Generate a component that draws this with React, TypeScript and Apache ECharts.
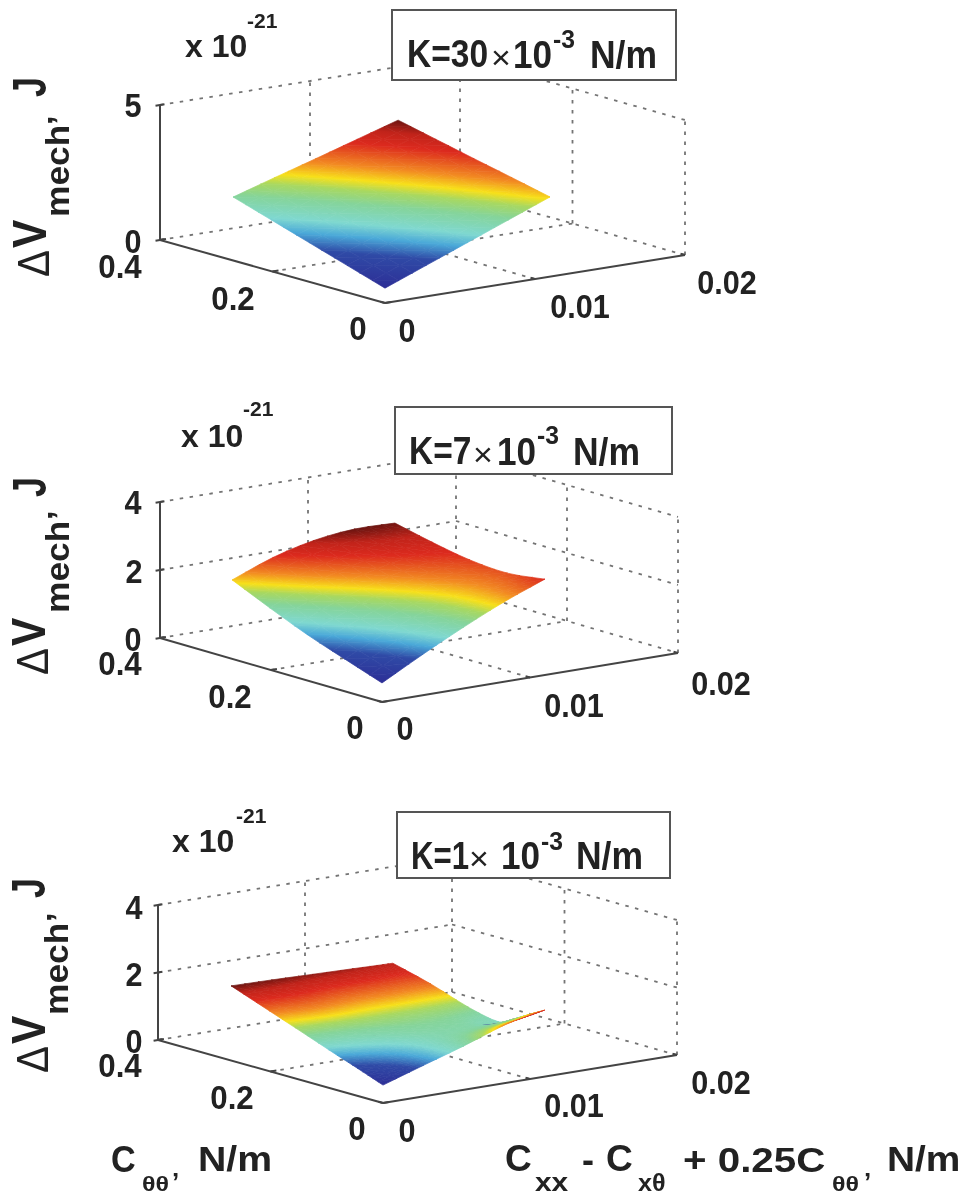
import React, { useEffect, useRef } from "react";
import * as echarts from "echarts";

// ---- data ----
const X_TICKS = [0, 0.01, 0.02];
const C_TICKS = [0, 0.2, 0.4];
const Z_TICKS_1 = [0, 5];
const Z_TICKS_2 = [0, 2, 4];
const Z_TICKS_3 = [0, 2, 4];

const X_VALUES_A = [0, 0.00275, 0.0055, 0.00825, 0.011];
const C_VALUES_A = [0, 0.0675, 0.135, 0.2025, 0.27];
const X_VALUES_B = [0, 0.00275, 0.0055, 0.00825, 0.0099, 0.011];
const C_VALUES_B = [0, 0.027, 0.054, 0.081, 0.135, 0.2025, 0.27];

const Z_K30 = [
  [0.55, 1.0, 1.45, 1.9, 2.35],
  [1.15, 1.57, 2.0, 2.41, 2.82],
  [1.75, 2.14, 2.53, 2.91, 3.28],
  [2.35, 2.7, 3.05, 3.4, 3.75],
  [2.95, 3.27, 3.58, 3.9, 4.22],
];
const Z_K7 = [
  [0.56, 0.95, 1.35, 1.82, 2.32],
  [1.2, 1.5, 1.86, 2.3, 2.78],
  [1.8, 1.98, 2.27, 2.65, 3.08],
  [2.35, 2.38, 2.57, 2.87, 3.22],
  [2.82, 2.68, 2.75, 2.95, 3.2],
];
const Z_K1 = [
  [0.53, 0.7, 0.87, 1.03, 1.37, 1.79, 2.21],
  [0.92, 0.98, 1.06, 1.17, 1.42, 1.82, 2.19],
  [1.3, 1.27, 1.27, 1.31, 1.45, 1.78, 2.16],
  [1.72, 1.5, 1.35, 1.33, 1.45, 1.78, 2.13],
  [1.88, 1.62, 1.4, 1.27, 1.44, 1.78, 2.11],
  [1.97, 1.72, 1.46, 1.24, 1.42, 1.8, 2.1],
];

// ---- styles and layout ----
const JET = [
  [0, "#2d2e96"], [0.2, "#2f4aa6"], [0.3, "#4aa8d8"], [0.38, "#7fd8d0"],
  [0.5, "#85d49a"], [0.58, "#a8d860"], [0.64, "#f7e01a"], [0.72, "#f28a22"],
  [0.85, "#dc2a1e"], [0.93, "#c0231a"], [1, "#6b1410"],
].map(([offset, color]) => ({ offset, color }));

const FONT = "Liberation Sans";
const INK = "#222";
const X_MAX = 0.02;
const C_MAX = 0.4;
const MESH_STEPS = 3;

const PANELS = [
  {
    z: Z_K30, xs: X_VALUES_A, cs: C_VALUES_A, zTicks: Z_TICKS_1,
    o: [385, 303], l: [-225, -63], r: [300, -48], h: 135,
    zLabels: [[133, 241], [133, 105]],
    cLabels: [[358, 328], [233, 298], [120, 266]],
    xLabels: [[407, 330], [580, 306], [727, 282]],
    times10: [185, 46], exp21: [247, 20],
    box: [392, 10, 284, 70],
    k: { y: 54, supY: 39, k: ["K=30", 407], kx: 0.86, times: 491, ten: 513, sup: 553, unit: 590 },
    yl: { d: [34, 277], v: [30, 248], mech: [57, 217], comma: [59, 125], j: [30, 97] },
  },
  {
    z: Z_K7, xs: X_VALUES_A, cs: C_VALUES_A, zTicks: Z_TICKS_2,
    o: [382, 702], l: [-222, -64], r: [296, -49], h: 136,
    zLabels: [[133, 639], [134, 571], [133, 502]],
    cLabels: [[355, 727], [230, 696], [120, 663]],
    xLabels: [[405, 728], [574, 705], [721, 683]],
    times10: [181, 436], exp21: [243, 408],
    box: [395, 407, 277, 67],
    k: { y: 451, supY: 435, k: ["K=7", 409], kx: 0.86, times: 473, ten: 497, sup: 537, unit: 573 },
    yl: { d: [33, 675], v: [29, 646], mech: [57, 613], comma: [59, 520], j: [30, 497] },
  },
  {
    z: Z_K1, xs: X_VALUES_B, cs: C_VALUES_B, zTicks: Z_TICKS_3,
    o: [383, 1103], l: [-225, -63], r: [294, -48], h: 135,
    zLabels: [[134, 1041], [134, 974], [134, 907]],
    cLabels: [[357, 1128], [232, 1097], [120, 1065]],
    xLabels: [[407, 1130], [574, 1105], [721, 1082]],
    times10: [172, 841], exp21: [236, 815],
    box: [397, 812, 273, 66],
    k: { y: 855, supY: 841, k: ["K=1", 411], kx: 0.8, times: 469, ten: 501, sup: 541, unit: 576 },
    yl: { d: [33, 1073], v: [29, 1044], mech: [56, 1015], comma: [58, 922], j: [29, 898] },
  },
];

function project(p: any, x: number, c: number, z: number) {
  const zMax = p.zTicks[p.zTicks.length - 1];
  const a = c / C_MAX;
  const b = x / X_MAX;
  return [
    p.o[0] + a * p.l[0] + b * p.r[0],
    p.o[1] + a * p.l[1] + b * p.r[1] - (z / zMax) * p.h,
  ];
}

// Smooth resampling of a mesh line between its read values, for drawing only.
function spline(arr: number[], s: number) {
  const n = arr.length;
  const i = Math.min(Math.floor(s), n - 2);
  const t = s - i;
  const p1 = arr[i];
  const p2 = arr[i + 1];
  const p0 = i > 0 ? arr[i - 1] : 2 * p1 - p2;
  const p3 = i + 2 < n ? arr[i + 2] : 2 * p2 - p1;
  return (
    0.5 *
    (2 * p1 + (p2 - p0) * t + (2 * p0 - 5 * p1 + 4 * p2 - p3) * t * t + (3 * p1 - p0 - 3 * p2 + p3) * t * t * t)
  );
}
function meshZ(z: number[][], s: number, t: number) {
  return spline(z.map((row) => spline(row, t)), s);
}

function triangleFill(pts: number[][], zs: number[], lo: number, hi: number) {
  const [[x0, y0], [x1, y1], [x2, y2]] = pts;
  const det = (x1 - x0) * (y2 - y0) - (x2 - x0) * (y1 - y0);
  const dz1 = zs[1] - zs[0];
  const dz2 = zs[2] - zs[0];
  const fx = Math.abs(det) > 1e-6 ? (dz1 * (y2 - y0) - dz2 * (y1 - y0)) / det : 0;
  const fy = Math.abs(det) > 1e-6 ? (dz2 * (x1 - x0) - dz1 * (x2 - x0)) / det : 0;
  const g2 = fx * fx + fy * fy;
  if (g2 < 1e-9) {
    const idx = Math.max(0, Math.min(10, Math.round(((zs[0] - lo) / (hi - lo)) * 10)));
    return JET[idx].color;
  }
  const at = (t: number) => [x0 + (fx / g2) * (t - zs[0]), y0 + (fy / g2) * (t - zs[0])];
  const s = at(lo);
  const e = at(hi);
  return { type: "linear", global: true, x: s[0], y: s[1], x2: e[0], y2: e[1], colorStops: JET };
}

function surfaceSeries(p: any) {
  const flat = p.z.flat();
  const lo = Math.min(...flat);
  const hi = Math.max(...flat);
  const cells: number[][] = [];
  const ns = (p.xs.length - 1) * MESH_STEPS;
  const nt = (p.cs.length - 1) * MESH_STEPS;
  for (let i = ns - 1; i >= 0; i--) {
    for (let j = nt - 1; j >= 0; j--) cells.push([i, j]);
  }
  return {
    type: "custom",
    coordinateSystem: "cartesian2d",
    clip: false,
    silent: true,
    data: cells,
    renderItem: (_: any, api: any) => {
      const i = api.value(0);
      const j = api.value(1);
      const corner = (a: number, b: number) => {
        const s = a / MESH_STEPS;
        const t = b / MESH_STEPS;
        const z = meshZ(p.z, s, t);
        const [sx, sy] = project(p, spline(p.xs, s), spline(p.cs, t), z);
        return { pt: api.coord([sx, sy]), z };
      };
      const c00 = corner(i, j);
      const c01 = corner(i, j + 1);
      const c10 = corner(i + 1, j);
      const c11 = corner(i + 1, j + 1);
      const tri = (t: any[]) => {
        const pts = t.map((v) => v.pt);
        const fill = triangleFill(pts, t.map((v) => v.z), lo, hi);
        return {
          type: "polygon",
          shape: { points: pts },
          style: { fill, stroke: fill, lineWidth: 0.7, lineJoin: "round" },
        };
      };
      return { type: "group", children: [tri([c11, c01, c10]), tri([c01, c00, c10])] };
    },
  };
}

function gridSegments(p: any) {
  const segs: number[][] = [];
  const topZ = p.zTicks[p.zTicks.length - 1];
  for (const z of p.zTicks) {
    segs.push([0, C_MAX, z, X_MAX, C_MAX, z]);
    segs.push([X_MAX, C_MAX, z, X_MAX, 0, z]);
  }
  for (const x of X_TICKS) {
    if (x > 0) segs.push([x, C_MAX, 0, x, C_MAX, topZ]);
    if (x > 0 && x < X_MAX) segs.push([x, 0, 0, x, C_MAX, 0]);
  }
  for (const c of C_TICKS) {
    if (c > 0 && c < C_MAX) {
      segs.push([X_MAX, c, 0, X_MAX, c, topZ]);
      segs.push([0, c, 0, X_MAX, c, 0]);
    }
  }
  segs.push([X_MAX, 0, 0, X_MAX, 0, topZ]);
  return segs;
}

function axisSegments(p: any) {
  const topZ = p.zTicks[p.zTicks.length - 1];
  const segs = [
    [0, C_MAX, 0, 0, C_MAX, topZ],
    [0, 0, 0, 0, C_MAX, 0],
    [0, 0, 0, X_MAX, 0, 0],
  ];
  for (const c of C_TICKS) segs.push([0, c, 0, 0.0004, c, 0]);
  for (const x of X_TICKS) segs.push([x, 0, 0, x, 0.008, 0]);
  for (const z of p.zTicks) segs.push([-0.0003, C_MAX, z, 0.0003, C_MAX, z]);
  return segs;
}

function lineSeries(p: any, segs: number[][], style: any) {
  return {
    type: "custom",
    coordinateSystem: "cartesian2d",
    clip: false,
    silent: true,
    data: segs,
    renderItem: (_: any, api: any) => {
      const a = project(p, api.value(0), api.value(1), api.value(2));
      const b = project(p, api.value(3), api.value(4), api.value(5));
      const s = api.coord(a);
      const e = api.coord(b);
      return {
        type: "line",
        shape: { x1: s[0], y1: s[1], x2: e[0], y2: e[1] },
        style,
      };
    },
  };
}

function text(str: string, x: number, y: number, size: number, opts: any = {}) {
  return {
    type: "text",
    z: 20,
    x,
    y,
    rotation: opts.rot ? Math.PI / 2 : 0,
    scaleX: opts.sx ?? 1,
    silent: true,
    style: {
      text: str,
      x: 0,
      y: 0,
      fill: INK,
      font: `${opts.weight ?? "bold"} ${size}px "${FONT}"`,
      align: opts.align ?? "center",
      verticalAlign: "middle",
    },
  };
}

function panelGraphics(p: any) {
  const out: any[] = [];
  const tickFmt = (v: number) => String(v);
  p.zTicks.forEach((v: number, i: number) => out.push(text(tickFmt(v), p.zLabels[i][0], p.zLabels[i][1], 34, { sx: 0.9 })));
  C_TICKS.forEach((v, i) => out.push(text(tickFmt(v), p.cLabels[i][0], p.cLabels[i][1], 34, { sx: 0.92 })));
  X_TICKS.forEach((v, i) => out.push(text(tickFmt(v), p.xLabels[i][0], p.xLabels[i][1], 34, { sx: 0.9 })));
  out.push(text("x 10", p.times10[0], p.times10[1], 32, { align: "left" }));
  out.push(text("-21", p.exp21[0], p.exp21[1], 21, { align: "left" }));
  out.push({
    type: "rect",
    z: 19,
    silent: true,
    shape: { x: p.box[0], y: p.box[1], width: p.box[2], height: p.box[3] },
    style: { fill: "#fff", stroke: "#555", lineWidth: 2 },
  });
  const k = p.k;
  out.push(text(k.k[0], k.k[1], k.y, 39, { align: "left", sx: k.kx }));
  out.push(text("×", k.times, k.y + 3, 34, { align: "left", weight: "normal" }));
  out.push(text("10", k.ten, k.y, 39, { align: "left", sx: 0.9 }));
  out.push(text("-3", k.sup, k.supY, 26, { align: "left", sx: 0.95 }));
  out.push(text("N/m", k.unit, k.y, 39, { align: "left", sx: 0.91 }));
  const y = p.yl;
  out.push(text("Δ", y.d[0], y.d[1], 44, { align: "left", rot: true, weight: "normal", sx: 0.92 }));
  out.push(text("V", y.v[0], y.v[1], 48, { align: "left", rot: true, sx: 0.88 }));
  out.push(text("mech", y.mech[0], y.mech[1], 33, { align: "left", rot: true, sx: 1.07 }));
  out.push(text("’", y.comma[0], y.comma[1], 34, { align: "left", rot: true }));
  out.push(text("J", y.j[0], y.j[1], 48, { align: "left", rot: true, sx: 0.75 }));
  return out;
}

const BOTTOM_LABELS = [
  ["C", 111, 1159, 36, 0.95], ["θθ", 142, 1184, 20, 1.25], ["’", 172, 1182, 26, 1], ["N/m", 198, 1159, 36, 1.09],
  ["C", 505, 1159, 36, 1.03], ["xx", 535, 1182, 26, 1.15], ["-", 582, 1159, 36, 1], ["C", 606, 1159, 36, 1.03],
  ["xθ", 638, 1183, 24, 1.05], ["+ 0.25C", 683, 1159, 36, 1.12], ["θθ", 832, 1184, 20, 1.25], ["’", 864, 1182, 26, 1],
  ["N/m", 887, 1159, 36, 1.08],
];

export default function App() {
  const ref = useRef<HTMLDivElement>(null);
  useEffect(() => {
    const chart = echarts.init(ref.current!, undefined, { renderer: "svg" });
    const series: any[] = [];
    const dotted = { stroke: "#747474", lineWidth: 1.8, lineDash: [3.5, 6.5], fill: "none" };
    const solid = { stroke: "#444", lineWidth: 2, fill: "none" };
    for (const p of PANELS) {
      series.push(lineSeries(p, gridSegments(p), dotted));
      series.push(surfaceSeries(p));
      series.push(lineSeries(p, axisSegments(p), solid));
    }
    chart.setOption({
      animation: false,
      backgroundColor: "#fff",
      grid: { left: 0, right: 0, top: 0, bottom: 0 },
      xAxis: { type: "value", min: 0, max: 968, show: false },
      yAxis: { type: "value", min: 0, max: 1196, inverse: true, show: false },
      series,
      graphic: {
        elements: [
          ...PANELS.flatMap(panelGraphics),
          ...BOTTOM_LABELS.map(([s, x, y, size, sx]) =>
            text(s as string, x as number, y as number, size as number, { align: "left", sx })
          ),
        ],
      },
    });
    return () => chart.dispose();
  }, []);
  return (
    <div
      ref={ref}
      style={{ position: "fixed", left: 0, top: 0, width: 968, height: 1196, filter: "blur(0.45px)" }}
    />
  );
}
